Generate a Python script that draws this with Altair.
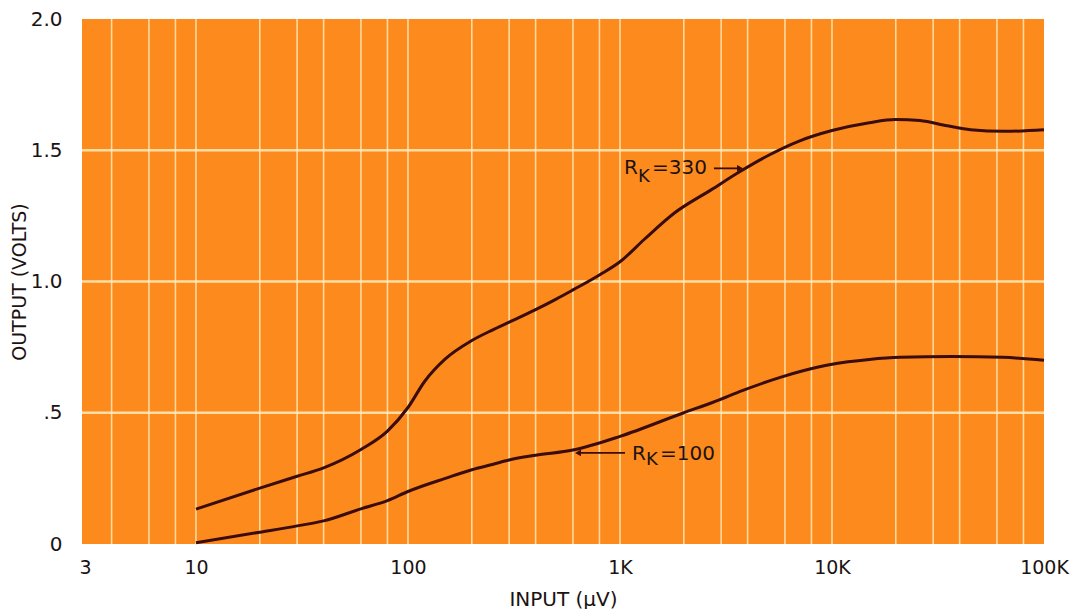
import altair as alt
import pandas as pd

# ---- data ----
x_330 = [10, 20, 30, 40, 60, 80, 100, 120, 150, 200, 250, 300, 400, 500, 600, 800, 1000,
         1300, 1800, 2700, 3700, 5000, 7000, 10000, 15000, 20000, 26000, 35000,
         45000, 65000, 100000]
y_330 = [0.133, 0.213, 0.258, 0.29, 0.36, 0.43, 0.52, 0.62, 0.705, 0.775, 0.815, 0.845,
         0.893, 0.933, 0.968, 1.025, 1.075, 1.16, 1.26, 1.35, 1.42, 1.48, 1.535, 1.575,
         1.605, 1.617, 1.613, 1.593, 1.578, 1.572, 1.578]

x_100 = [10, 20, 30, 40, 60, 80, 100, 150, 200, 250, 300, 400, 600, 1000, 2000, 2750,
         3800, 5700, 7300, 10000, 15000, 21000, 37000, 64000, 100000]
y_100 = [0.005, 0.045, 0.069, 0.088, 0.134, 0.165, 0.20, 0.25, 0.283, 0.303, 0.32,
         0.338, 0.358, 0.41, 0.50, 0.54, 0.585, 0.635, 0.66, 0.685, 0.703, 0.711,
         0.714, 0.711, 0.70]

x_ticks = [3, 10, 100, 1000, 10000, 100000]
x_tick_labels = ["3", "10", "100", "1K", "10K", "100K"]
y_ticks = [0, 0.5, 1.0, 1.5, 2.0]
y_tick_labels = ["0", ".5", "1.0", "1.5", "2.0"]

x_grid = [4, 6, 8, 10, 20, 30, 40, 60, 80, 100, 200, 300, 400, 600, 800,
          1000, 2000, 3000, 4000, 6000, 8000, 10000, 20000, 30000, 40000, 60000, 80000]
y_grid = [0.5, 1.0, 1.5]

# annotations (data coordinates)
ann_main_text = ["R", "=330", "R", "=100"]
ann_main_x = [1045, 1416, 1140, 1544]
ann_main_y = [1.431, 1.431, 0.344, 0.344]
ann_sub_text = ["K", "K"]
ann_sub_x = [1216, 1327]
ann_sub_y = [1.397, 0.321]
arrow_x1 = [2775, 647]
arrow_x2 = [3603, 1056]
arrow_y = [1.431, 0.347]
head_x = [3681, 634]
head_y = [1.431, 0.347]
head_shape = ["triangle-right", "triangle-left"]

# ---- build ----
FONT = "DejaVu Sans"
INK = "#1c1212"
CURVE = "#3a0c0c"
ORANGE = "#fd8a1c"
GRIDC = "#ffe7b5"

x_lbl_expr = " : ".join(
    [f"datum.value == {v} ? '{l}'" for v, l in zip(x_ticks, x_tick_labels)]) + " : ''"
y_lbl_expr = " : ".join(
    [f"datum.value == {v} ? '{l}'" for v, l in zip(y_ticks, y_tick_labels)]) + " : ''"

xscale = alt.Scale(type="log", domain=[2.9, 100000], nice=False)
yscale = alt.Scale(domain=[0, 2], nice=False, zero=False)

curves = pd.concat([
    pd.DataFrame({"x": x_330, "y": y_330, "s": "330"}),
    pd.DataFrame({"x": x_100, "y": y_100, "s": "100"}),
])

xaxis = alt.Axis(values=x_ticks, labelExpr=x_lbl_expr, title="INPUT (\u00b5V)",
                 grid=False, ticks=False, domain=False, labelPadding=14,
                 labelFontSize=19, titleFontSize=20, titlePadding=12,
                 labelFont=FONT, titleFont=FONT, labelColor=INK, titleColor=INK,
                 titleFontWeight="normal", labelFlush=False)
yaxis = alt.Axis(values=y_ticks, labelExpr=y_lbl_expr, title="OUTPUT (VOLTS)",
                 grid=False, ticks=False, domain=False, labelPadding=20,
                 labelFontSize=20, titleFontSize=19, titlePadding=1,
                 labelFont=FONT, titleFont=FONT, labelColor=INK, titleColor=INK,
                 titleFontWeight="normal", labelFlush=False)

vgrid = alt.Chart(pd.DataFrame({"x": x_grid})).mark_rule(
    color=GRIDC, strokeWidth=1.6, opacity=0.85
).encode(x=alt.X("x:Q", scale=xscale, axis=xaxis))

hgrid = alt.Chart(pd.DataFrame({"y": y_grid})).mark_rule(
    color=GRIDC, strokeWidth=2.4, opacity=0.9
).encode(y=alt.Y("y:Q", scale=yscale, axis=yaxis))

lines = alt.Chart(curves).mark_line(
    color=CURVE, strokeWidth=3, interpolate="monotone"
).encode(
    x=alt.X("x:Q", scale=xscale),
    y=alt.Y("y:Q", scale=yscale),
    detail="s:N",
)

main_txt = alt.Chart(pd.DataFrame({"x": ann_main_x, "y": ann_main_y, "t": ann_main_text})).mark_text(
    align="left", baseline="middle", font=FONT, fontSize=20, color=INK
).encode(x=alt.X("x:Q", scale=xscale), y=alt.Y("y:Q", scale=yscale), text="t:N")

sub_txt = alt.Chart(pd.DataFrame({"x": ann_sub_x, "y": ann_sub_y, "t": ann_sub_text})).mark_text(
    align="left", baseline="middle", font=FONT, fontSize=18, color=INK
).encode(x=alt.X("x:Q", scale=xscale), y=alt.Y("y:Q", scale=yscale), text="t:N")

arrows = alt.Chart(pd.DataFrame({"x": arrow_x1, "x2": arrow_x2, "y": arrow_y})).mark_rule(
    color=CURVE, strokeWidth=1.8
).encode(x=alt.X("x:Q", scale=xscale), x2="x2:Q", y=alt.Y("y:Q", scale=yscale))

heads = alt.Chart(pd.DataFrame({"x": head_x, "y": head_y, "sh": head_shape})).mark_point(
    filled=True, color=CURVE, size=45, opacity=1
).encode(x=alt.X("x:Q", scale=xscale), y=alt.Y("y:Q", scale=yscale),
         shape=alt.Shape("sh:N", scale=None))

chart = alt.layer(vgrid, hgrid, lines, arrows, heads, main_txt, sub_txt).properties(
    width=962, height=525,
    padding={"left": 2, "top": 1, "right": 5, "bottom": 0},
    background="white",
).configure_view(fill=ORANGE, stroke=None)

chart.save("out.html", embed_options={"renderer": "svg", "actions": False})
